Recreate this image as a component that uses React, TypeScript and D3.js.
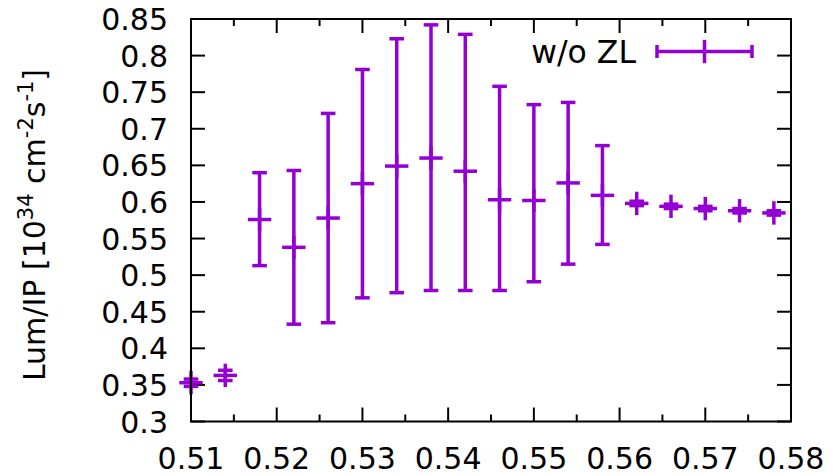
import React from "react";
import * as d3 from "d3";

// Luminosity per IP versus working point, with asymmetric error bars
const xValues = [0.510, 0.514, 0.518, 0.522, 0.526, 0.530, 0.534, 0.538, 0.542, 0.546, 0.550, 0.554, 0.558, 0.562, 0.566, 0.570, 0.574, 0.578];
const lumValues = [0.353, 0.363, 0.576, 0.538, 0.578, 0.625, 0.649, 0.660, 0.642, 0.603, 0.602, 0.626, 0.609, 0.598, 0.594, 0.591, 0.588, 0.585];
const lumLow = [0.348, 0.356, 0.513, 0.433, 0.435, 0.469, 0.476, 0.479, 0.479, 0.479, 0.491, 0.515, 0.542, 0.595, 0.591, 0.588, 0.585, 0.582];
const lumHigh = [0.358, 0.370, 0.640, 0.643, 0.721, 0.781, 0.823, 0.842, 0.829, 0.758, 0.733, 0.736, 0.677, 0.601, 0.597, 0.594, 0.591, 0.588];

const xMajorTicks = [0.51, 0.52, 0.53, 0.54, 0.55, 0.56, 0.57, 0.58];
const xMinorTicks = [0.515, 0.525, 0.535, 0.545, 0.555, 0.565, 0.575];
const yTicks = [0.3, 0.35, 0.4, 0.45, 0.5, 0.55, 0.6, 0.65, 0.7, 0.75, 0.8, 0.85];
const seriesName = "w/o ZL";

const W = 833;
const H = 476;
const left = 191;
const right = 791;
const top = 19;
const bottom = 421.5;

const COLOR = "#9400d3";
const FONT = "'DejaVu Sans', sans-serif";

export default function App() {
  const x = d3.scaleLinear().domain([0.51, 0.58]).range([left, right]);
  const y = d3.scaleLinear().domain([0.3, 0.85]).range([bottom, top]);
  const fmtX = d3.format(".2f");
  const fmtY = d3.format("~g");

  const majorLen = 14;
  const minorLen = 7;
  const capHalf = 7.3;
  const plusHalf = 11.7;
  const lw = 3.5;

  const legY = 51.5;
  const legX0 = 657;
  const legX1 = 752;
  const legXc = (legX0 + legX1) / 2;

  return (
    <svg
      width={W}
      height={H}
      style={{ position: "absolute", left: 0, top: 0, background: "#fff" }}
      fontFamily={FONT}
    >
      <rect x={0} y={0} width={W} height={H} fill="#fff" />

      {/* ticks on all four sides */}
      <g stroke="#000" strokeWidth={2}>
        {xMajorTicks.map((t) => (
          <g key={"xm" + t}>
            <line x1={x(t)} x2={x(t)} y1={bottom} y2={bottom - majorLen} />
            <line x1={x(t)} x2={x(t)} y1={top} y2={top + majorLen} />
          </g>
        ))}
        {xMinorTicks.map((t) => (
          <g key={"xn" + t}>
            <line x1={x(t)} x2={x(t)} y1={bottom} y2={bottom - minorLen} />
            <line x1={x(t)} x2={x(t)} y1={top} y2={top + minorLen} />
          </g>
        ))}
        {yTicks.map((t) => (
          <g key={"y" + t}>
            <line x1={left} x2={left + majorLen} y1={y(t)} y2={y(t)} />
            <line x1={right} x2={right - majorLen} y1={y(t)} y2={y(t)} />
          </g>
        ))}
      </g>

      {/* tick labels */}
      <g fontSize={30} fill="#000">
        {xMajorTicks.map((t) => (
          <text key={"xl" + t} x={x(t)} y={469} textAnchor="middle">
            {fmtX(t)}
          </text>
        ))}
        {yTicks.map((t) => (
          <text key={"yl" + t} x={168} y={y(t) + 11} textAnchor="end">
            {fmtY(t)}
          </text>
        ))}
      </g>

      {/* y-axis title */}
      <text
        transform={`translate(45,225) rotate(-90)`}
        textAnchor="middle"
        fontSize={30}
        fill="#000"
      >
        Lum/IP [10
        <tspan fontSize={21} dy={-12}>34</tspan>
        <tspan dy={12}> cm</tspan>
        <tspan fontSize={21} dy={-12}>-2</tspan>
        <tspan dy={12}>s</tspan>
        <tspan fontSize={21} dy={-12}>-1</tspan>
        <tspan dy={12}>]</tspan>
      </text>

      {/* error bars */}
      <g stroke={COLOR} strokeWidth={lw} fill="none">
        {xValues.map((xv, i) => {
          const cx = x(xv);
          const cy = y(lumValues[i]);
          const yl = y(lumLow[i]);
          const yh = y(lumHigh[i]);
          return (
            <g key={"e" + i}>
              <line x1={cx} x2={cx} y1={yl} y2={yh} />
              <line x1={cx - capHalf} x2={cx + capHalf} y1={yl} y2={yl} />
              <line x1={cx - capHalf} x2={cx + capHalf} y1={yh} y2={yh} />
              <line x1={cx - plusHalf} x2={cx + plusHalf} y1={cy} y2={cy} />
              <line x1={cx} x2={cx} y1={cy - plusHalf} y2={cy + plusHalf} />
            </g>
          );
        })}
      </g>

      {/* legend */}
      <text x={636} y={63} textAnchor="end" fontSize={31.5} fill="#000">
        {seriesName}
      </text>
      <g stroke={COLOR} strokeWidth={lw}>
        <line x1={legX0} x2={legX1} y1={legY} y2={legY} />
        <line x1={legX0} x2={legX0} y1={legY - 6.5} y2={legY + 6.5} />
        <line x1={legX1} x2={legX1} y1={legY - 6.5} y2={legY + 6.5} />
        <line x1={legXc} x2={legXc} y1={legY - plusHalf} y2={legY + plusHalf} />
      </g>

      {/* plot border */}
      <rect
        x={left}
        y={top}
        width={right - left}
        height={bottom - top}
        fill="none"
        stroke="#000"
        strokeWidth={2}
      />
    </svg>
  );
}
